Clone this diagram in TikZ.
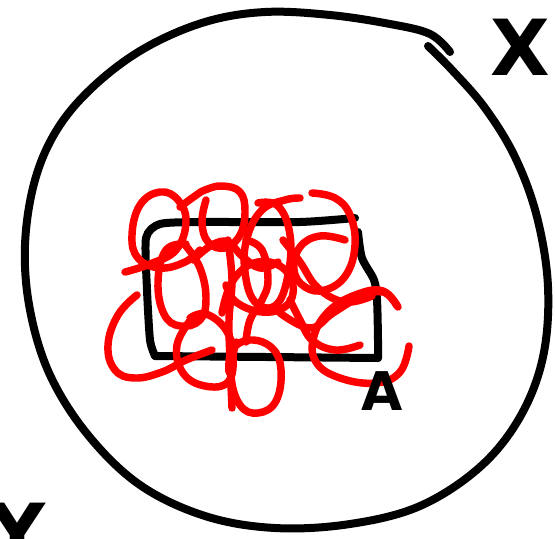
\documentclass[tikz,border=0pt]{standalone}
\usepackage{fontspec}
\setmainfont{DejaVu Sans}
\begin{document}
\begin{tikzpicture}[x=0.75pt,y=-0.75pt,
  ink/.style={draw=black,line width=6pt,line cap=round,line join=round},
  scrib/.style={draw=red,line width=5.6pt,line cap=round,line join=round},
  hand/.style={font=\fontsize{58}{58}\selectfont\bfseries,inner sep=0pt}]
\useasboundingbox (0,0) rectangle (555,538);
% big hand-drawn circle
\draw[ink] plot[smooth,tension=0.6] coordinates {(428,46) (452,70) (485,108) (515,157) (537,217) (548,287) (543,357) (520,417) (480,467) (420,506) (350,524) (275,528) (205,516) (140,485) (88,435) (50,375) (30,310) (25,245) (35,180) (58,128) (95,85) (145,48) (205,22) (265,12) (330,15) (390,24) (430,34) (450,52)};
% rectangle
\draw[ink] plot[smooth,tension=0.4] coordinates {(355,218) (300,222) (200,222) (160,224) (146,238) (147,290) (150,340) (155,356)};
\draw[ink] (155,356) -- (378,358);
\draw[ink] plot[smooth,tension=0.5] coordinates {(358,232) (362,258) (374,280) (377,300) (378,340) (378,358)};
% red scribble
\draw[scrib] plot[smooth,tension=0.7] coordinates {(125,272) (150,264) (176,250) (186,222) (178,200) (160,192) (140,205) (132,235) (138,258) (160,268) (185,262) (200,250)};
\draw[scrib] plot[smooth,tension=0.7] coordinates {(180,207) (195,196) (205,190) (222,186) (240,192) (245,212) (240,235) (225,248) (208,242) (202,222) (206,200)};
\draw[scrib] plot[smooth,tension=0.7] coordinates {(258,203) (278,206) (290,235) (288,275) (276,305) (255,302) (245,272) (247,238) (262,210) (285,200) (300,198)};
\draw[scrib] plot[smooth,tension=0.7] coordinates {(312,193) (335,198) (350,215) (355,245) (346,275) (325,290) (305,287) (294,270) (300,247) (320,236) (345,240)};
\draw[scrib] plot[smooth,tension=0.7] coordinates {(222,313) (232,282) (254,263) (280,266) (293,286) (286,306) (262,312) (236,302) (226,285)};
\draw[scrib] plot[smooth,tension=0.7] coordinates {(398,307) (383,291) (358,294) (330,310) (314,336) (316,362) (340,378) (376,383) (400,372) (409,346)};
\draw[scrib] plot[smooth,tension=0.7] coordinates {(236,342) (231,375) (240,405) (258,413) (276,401) (281,370) (272,348) (250,340) (232,350) (229,372)};
\draw[scrib] plot[smooth,tension=0.7] coordinates {(192,318) (177,345) (183,373) (205,386) (228,382) (233,356) (226,330) (206,314) (190,318)};
\draw[scrib] plot[smooth,tension=0.7] coordinates {(137,295) (118,315) (108,345) (115,370) (135,378) (162,372) (186,360) (212,350)};
\draw[scrib] plot[smooth,tension=0.7] coordinates {(186,244) (166,250) (158,282) (164,314) (180,326) (200,320) (206,298) (200,268) (186,246)};
\draw[scrib] plot[smooth,tension=0.6] coordinates {(228,240) (232,280) (229,320) (230,360) (232,408)};
\draw[scrib] plot[smooth,tension=0.7] coordinates {(193,260) (212,245) (228,242) (242,256) (260,268) (278,262)};
\draw[scrib] plot[smooth,tension=0.7] coordinates {(280,313) (310,328) (333,313) (360,297) (383,292) (397,306)};
\draw[scrib] plot[smooth,tension=0.7] coordinates {(283,240) (300,262) (318,288) (345,302) (372,296)};
\draw[scrib] plot[smooth,tension=0.7] coordinates {(290,300) (300,320) (312,340) (335,350) (360,345)};
\draw[scrib] plot[smooth,tension=0.7] coordinates {(246,240) (262,250) (268,280) (262,300) (250,320) (246,342)};
% hand letters
\node[hand] (x) at (520,47) {X};
\node[hand,font=\fontsize{40}{40}\selectfont\bfseries] (a) at (382,391) {A};
\node[hand,anchor=north] (y) at (18,503) {Y};
\end{tikzpicture}
\end{document}
